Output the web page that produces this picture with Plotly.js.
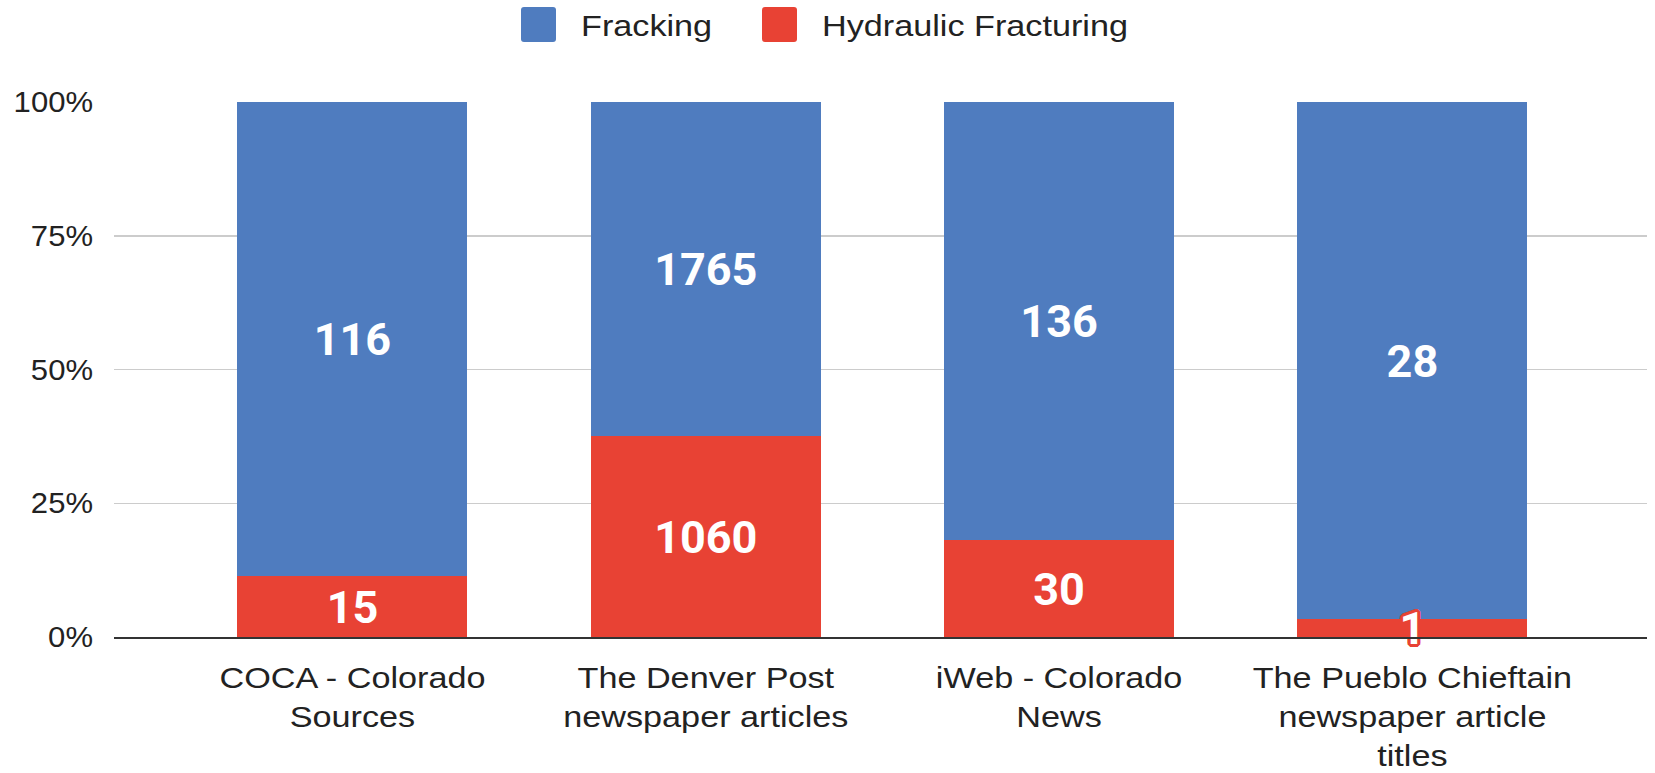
<!DOCTYPE html>
<html>
<head>
<meta charset="utf-8">
<script src="https://cdn.plot.ly/plotly-3.0.1.min.js"></script>
<style>
html,body{margin:0;padding:0;background:#fff;}
#chart{width:1655px;height:773px;}
</style>
</head>
<body>
<div id="chart"></div>
<script>
const categories = [
  "COCA - Colorado<br>Sources",
  "The Denver Post<br>newspaper articles",
  "iWeb - Colorado<br>News",
  "The Pueblo Chieftain<br>newspaper article<br>titles"
];
const seriesNames = ["Fracking", "Hydraulic Fracturing"];
const fracking = [116, 1765, 136, 28];
const hydraulicFracturing = [15, 1060, 30, 1];
const yTickVals = [0, 25, 50, 75, 100];
const yTickLabels = ["0%", "25%", "50%", "75%", "100%"];

const BLUE = "#4f7cbf";
const RED = "#e84234";
const W = 1655, H = 773;
const L = 114, R = 8, T = 102, B = 136;
const pw = W - L - R, ph = H - T - B;
const px = x => (x - L) / pw;
const py = y => (H - B - y) / ph;

// label positions = middle of each stacked (percent-normalised) segment
const totals = fracking.map((v, i) => v + hydraulicFracturing[i]);
const redPct = hydraulicFracturing.map((v, i) => 100 * v / totals[i]);
const redMid = redPct.map(p => p / 2);
const blueMid = fracking.map((v, i) => redPct[i] + 50 * v / totals[i]);

const outline = [[-2,-2],[2,-2],[-2,2],[2,2],[0,3],[0,-3],[3,0],[-3,0],[1,3],[-1,3],[1,-3],[-1,-3],[3,1],[3,-1],[-3,1],[-3,-1]]
  .map(d => d[0] + "px " + d[1] + "px 0 " + RED).join(", ");

const numFont = {family: "Roboto, Arial, sans-serif", size: 45, color: "#ffffff", weight: 700};

const traces = [
  {
    type: "bar", name: seriesNames[1], x: categories, y: hydraulicFracturing,
    marker: {color: RED, line: {width: 0}}, hoverinfo: "skip"
  },
  {
    type: "bar", name: seriesNames[0], x: categories, y: fracking,
    marker: {color: BLUE, line: {width: 0}}, hoverinfo: "skip"
  },
  {
    type: "scatter", mode: "text", x: categories, y: blueMid,
    text: fracking.map(String), textposition: "middle center",
    textfont: Object.assign({}, numFont), hoverinfo: "skip", cliponaxis: false
  },
  {
    type: "scatter", mode: "text", x: categories, y: redMid,
    text: hydraulicFracturing.map(String), textposition: "middle center",
    textfont: Object.assign({}, numFont, {shadow: outline}), hoverinfo: "skip", cliponaxis: false
  }
];

const legendItems = [
  {name: seriesNames[0], color: BLUE, sq: 521, tx: 579},
  {name: seriesNames[1], color: RED, sq: 762, tx: 820}
];
const shapes = [], annotations = [];
legendItems.forEach(it => {
  const x0 = it.sq, x1 = it.sq + 35, y0 = 7, y1 = 42, r = 3;
  shapes.push({
    type: "path", xref: "paper", yref: "paper", line: {width: 0}, fillcolor: it.color,
    path: `M${px(x0+r)},${py(y0)} L${px(x1-r)},${py(y0)} Q${px(x1)},${py(y0)} ${px(x1)},${py(y0+r)} L${px(x1)},${py(y1-r)} Q${px(x1)},${py(y1)} ${px(x1-r)},${py(y1)} L${px(x0+r)},${py(y1)} Q${px(x0)},${py(y1)} ${px(x0)},${py(y1-r)} L${px(x0)},${py(y0+r)} Q${px(x0)},${py(y0)} ${px(x0+r)},${py(y0)} Z`
  });
  annotations.push({
    xref: "paper", yref: "paper", x: px(it.tx), y: py(25), xanchor: "left", yanchor: "middle",
    text: it.name, showarrow: false,
    font: {family: "Liberation Sans, Arial, sans-serif", size: 30, color: "#222222"}
  });
});

const layout = {
  width: W, height: H,
  margin: {l: L, r: R, t: T, b: B, pad: 0},
  paper_bgcolor: "#ffffff", plot_bgcolor: "#ffffff",
  barmode: "stack", barnorm: "percent", bargap: 0.349,
  showlegend: false,
  font: {family: "Liberation Sans, Arial, sans-serif", color: "#222222", size: 30},
  xaxis: {
    type: "category", range: [-0.675, 3.664], fixedrange: true,
    showline: true, linecolor: "#333333", linewidth: 2,
    showgrid: false, ticks: "", ticklabelstandoff: 13,
    tickfont: {size: 30, color: "#222222"}
  },
  yaxis: {
    range: [0, 100], tickmode: "array", tickvals: yTickVals, ticktext: yTickLabels,
    showgrid: true, gridcolor: "#cccccc", gridwidth: 1.5, zeroline: false,
    showline: false, ticks: "", ticklabelstandoff: 20,
    tickfont: {size: 29, color: "#222222"}, fixedrange: true
  },
  shapes: shapes,
  annotations: annotations
};

// the reference's text is drawn slightly wide; stretch glyphs horizontally
function stretch(selector, factor, keepLeft) {
  document.querySelectorAll(selector).forEach(t => {
    const lines = t.querySelectorAll("tspan.line");
    const targets = lines.length ? Array.from(lines) : [t];
    const before = t.getBBox();
    targets.forEach(el => {
      const len = el.getComputedTextLength();
      el.setAttribute("textLength", (len * factor).toFixed(2));
      el.setAttribute("lengthAdjust", "spacingAndGlyphs");
    });
    if (keepLeft) {
      const after = t.getBBox();
      const dx = before.x - after.x;
      const prev = t.getAttribute("transform") || "";
      t.setAttribute("transform", prev + " translate(" + dx.toFixed(2) + ",0)");
    }
  });
}

Plotly.newPlot("chart", traces, layout, {staticPlot: true, displayModeBar: false}).then(() => {
  stretch("#chart .xtick text", 1.14, false);
  stretch("#chart .ytick text", 1.07, false);
  stretch("#chart .annotation-text", 1.14, true);
  // optical centring of the value labels (digits have no descenders)
  document.querySelectorAll("#chart g.textpoint text").forEach(t => {
    const prev = t.getAttribute("transform") || "";
    t.setAttribute("transform", prev + " translate(0,5)");
  });
});
</script>
</body>
</html>
